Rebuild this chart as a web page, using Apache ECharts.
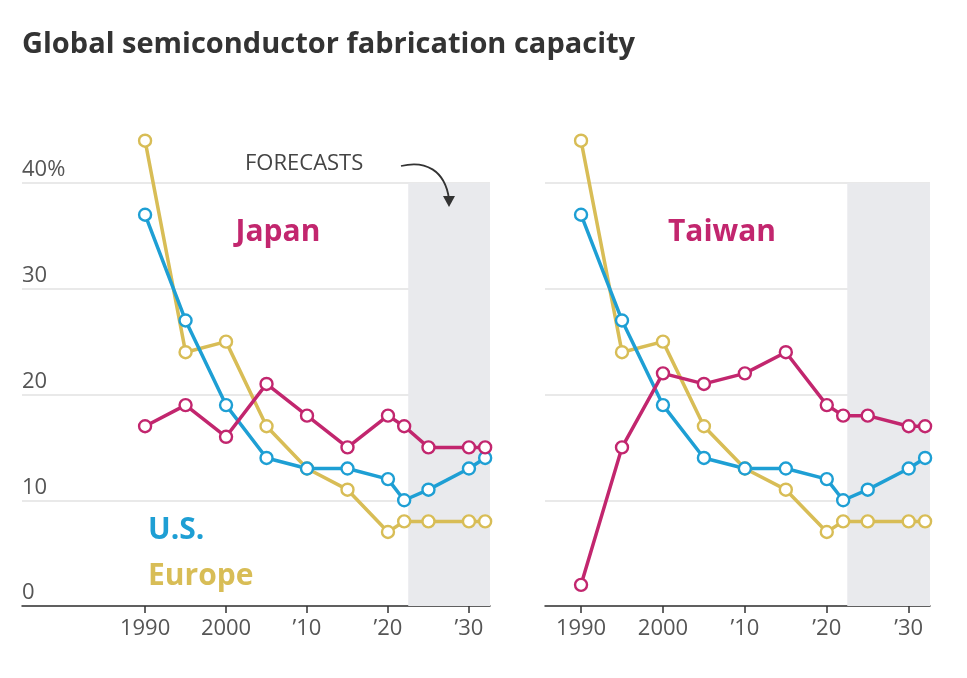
<!DOCTYPE html>
<html><head><meta charset="utf-8">
<script src="https://cdn.jsdelivr.net/npm/echarts@6/dist/echarts.min.js"></script>
<style>html,body{margin:0;background:#fff}#c{width:967px;height:678px}</style>
</head><body><div id="c"></div>
<script>
const years = [1990,1995,2000,2005,2010,2015,2020,2022,2025,2030,2032];
const us = [37,27,19,14,13,13,12,10,11,13,14];
const europe = [44,24,25,17,13,11,7,8,8,8,8];
const japan = [17,19,16,21,18,15,18,17,15,15,15];
const taiwan = [2,15,22,21,22,24,19,18,18,17,17];
const tickYears = [1990,2000,2010,2020,2030];

const C = {us:'#1e9fd4', eu:'#d8bd56', jp:'#c2266e'};
const pairs = a => years.map((y,i)=>[y,a[i]]);
function ser(name, data, color, idx){
  return {name, type:'line', xAxisIndex:idx, yAxisIndex:idx, data:pairs(data), clip:false,
    symbol:'circle', symbolSize:12, lineStyle:{color, width:3.5}, z: name==='Japan'||name==='Taiwan'?3:2,
    itemStyle:{color:'#fff', borderColor:color, borderWidth:2.4}};
}
const xFmt = v => v===1990||v===2000 ? String(v) : "\u2019"+String(v).slice(2);
function xAx(idx,min){
  return {type:'value', gridIndex:idx, min, max:2032.6,
    axisLine:{show:true, lineStyle:{color:'#333', width:1.5}},
    axisTick:{show:true, customValues:tickYears, length:7, lineStyle:{color:'#333', width:1.5}},
    axisLabel:{customValues:tickYears, formatter:xFmt, color:'#555', fontSize:22, fontFamily:'Open Sans', margin:12},
    splitLine:{show:false}};
}
function yAx(idx, show){
  return {type:'value', gridIndex:idx, min:0, max:40, interval:10,
    axisLine:{show:false}, axisTick:{show:false},
    axisLabel:{show:show, inside:true, formatter:v=>v===40?'40%':String(v), color:'#555', fontSize:22, fontFamily:'Open Sans',
      verticalAlign:'bottom', align:'left', margin:0, padding:[0,0,2,0]},
    splitLine:{show:true, lineStyle:{color:'#e2e2e2', width:1.5}}};
}
const shade = {silent:true, itemStyle:{color:'#e9eaed'}, data:[[{xAxis:2022.5, yAxis:0},{xAxis:2032.6, yAxis:40}]]};
const s = [
  ser('Europe', europe, C.eu, 0), ser('U.S.', us, C.us, 0), ser('Japan', japan, C.jp, 0),
  ser('Europe', europe, C.eu, 1), ser('U.S.', us, C.us, 1), ser('Taiwan', taiwan, C.jp, 1)
];
s[0].markArea = shade; s[3].markArea = shade;
const chart = echarts.init(document.getElementById('c'));
chart.setOption({
  animation:false,
  grid:[{left:22, width:468, top:183, height:423},{left:545, width:385, top:183, height:423}],
  xAxis:[xAx(0,1974.8), xAx(1,1985.6)],
  yAxis:[yAx(0,true), yAx(1,false)],
  series:s,
  graphic:[
    {type:'text', x:22, y:45, style:{text:'Global semiconductor fabrication capacity', fontSize:29, fontWeight:'bold', fill:'#333', fontFamily:'Open Sans', verticalAlign:'middle'}},
    {type:'text', x:278, y:232, style:{text:'Japan', fontSize:30, fontWeight:'bold', fill:C.jp, fontFamily:'Open Sans', align:'center', verticalAlign:'middle'}},
    {type:'text', x:722, y:232, style:{text:'Taiwan', fontSize:30, fontWeight:'bold', fill:C.jp, fontFamily:'Open Sans', align:'center', verticalAlign:'middle'}},
    {type:'text', x:148, y:530, style:{text:'U.S.', fontSize:30, fontWeight:'bold', fill:C.us, fontFamily:'Open Sans', verticalAlign:'middle'}},
    {type:'text', x:148, y:576, style:{text:'Europe', fontSize:30, fontWeight:'bold', fill:C.eu, fontFamily:'Open Sans', verticalAlign:'middle'}},
    {type:'text', x:245, y:164, style:{text:'FORECASTS', fontSize:22, fill:'#444', fontFamily:'Open Sans', verticalAlign:'middle'}},
    {type:'bezierCurve', z:100, shape:{x1:401,y1:166,cpx1:425,cpy1:160,cpx2:445,cpy2:170,x2:449,y2:199}, style:{stroke:'#333', lineWidth:1.8, fill:null}},
    {type:'polygon', z:100, shape:{points:[[443,196],[455,196],[449,207]]}, style:{fill:'#333'}}
  ]
});
</script></body></html>
